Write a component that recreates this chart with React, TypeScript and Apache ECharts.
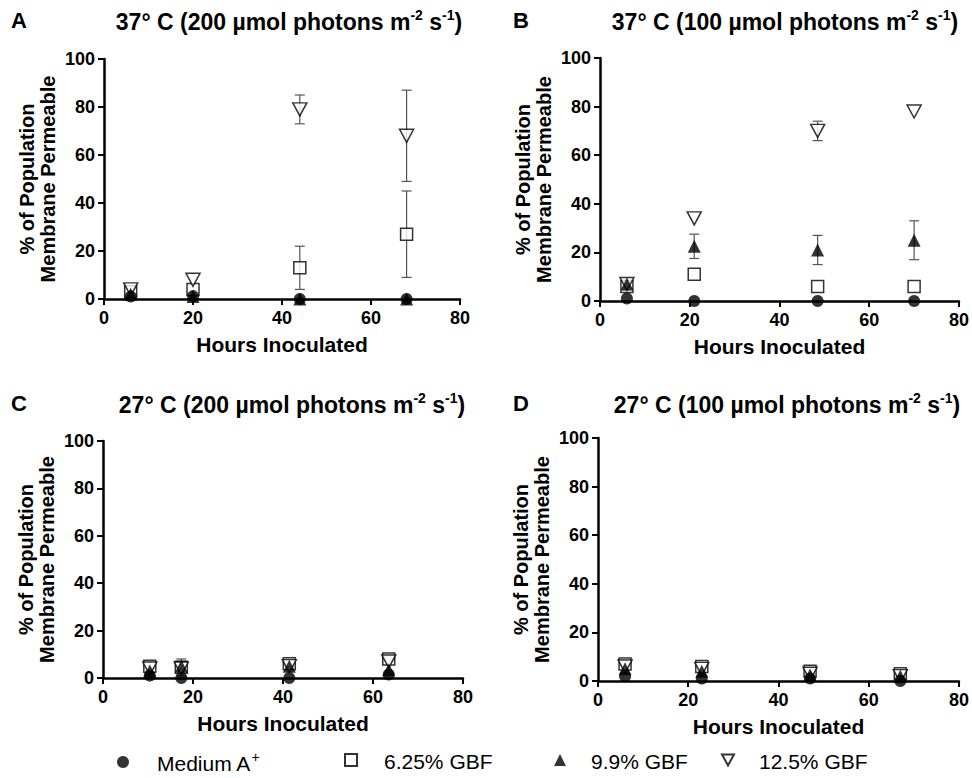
import React, { useEffect, useRef } from "react";
import * as echarts from "echarts";

// ---- data ----
const panelTitles = [
  ["37° C (200 µmol photons m", "-2", " s", "-1", ")"],
  ["37° C (100 µmol photons m", "-2", " s", "-1", ")"],
  ["27° C (200 µmol photons m", "-2", " s", "-1", ")"],
  ["27° C (100 µmol photons m", "-2", " s", "-1", ")"],
];
const panelLetters = ["A", "B", "C", "D"];
const seriesNames = ["Medium A+", "6.25% GBF", "9.9% GBF", "12.5% GBF"];
const xTicks = [0, 20, 40, 60, 80];
const yTicks = [0, 20, 40, 60, 80, 100];

const hours = [
  [6, 20, 44, 68],
  [6, 21, 48.5, 70],
  [10.4, 17.4, 41.4, 63.5],
  [6, 23, 47, 67],
];
const mediumA = [
  [1, 1.2, 0, 0],
  [1, 0, 0, 0],
  [1, 0, 0, 1.5],
  [2, 1, 1, 0],
];
const gbf625 = [
  [3, 4, 13, 27],
  [6, 11, 6, 6],
  [5, 4.5, 6, 8],
  [7, 6, 4, 3],
];
const gbf99 = [
  [2, 1, 0, 0],
  [7, 22.5, 21, 25],
  [3, 5, 5, 3.5],
  [5, 4, 2.5, 2],
];
const gbf125 = [
  [4, 8, 79, 68],
  [7, 34, 70, 78],
  [4, 4, 5, 7],
  [6, 5, 3, 2],
];
const sdMedium = [
  [0, 0, 0, 0],
  [0, 0, 0, 0],
  [0, 0, 0, 0],
  [0, 0, 0, 0],
];
const sd625 = [
  [1.5, 0, 9, 18],
  [1.5, 0, 0, 0],
  [1, 3.5, 1, 0.5],
  [0, 0, 0, 0],
];
const sd99 = [
  [0, 0, 0, 0],
  [1.5, 5, 6, 8],
  [1, 2, 1, 0],
  [0, 0, 0, 0],
];
const sd125 = [
  [1.5, 0, 6, 19],
  [0, 0, 4, 0],
  [0, 0, 0, 0],
  [0, 0, 0, 0],
];

// ---- layout ----
const FONT = '"Liberation Sans", Arial, sans-serif';
const grids = [
  { left: 104, top: 59, width: 356, height: 240 },
  { left: 600, top: 58, width: 361, height: 243 },
  { left: 103, top: 441, width: 360, height: 237 },
  { left: 598, top: 438, width: 362, height: 243 },
];
const titlePos = [
  { x: 284, y: 2 },
  { x: 780, y: 2 },
  { x: 287, y: 385 },
  { x: 782, y: 385 },
];
const letterPos = [
  { x: 6, y: 4 },
  { x: 508, y: 4 },
  { x: 6, y: 387 },
  { x: 508, y: 387 },
];
const legendPos = [
  { left: 112, gap: 23 },
  { left: 339, gap: 22 },
  { left: 549, gap: 20 },
  { left: 716, gap: 20 },
];

const INV_TRI = "path://M0,0L10,0L5,9Z";
const seriesStyles = [
  { symbol: "circle", symbolSize: 12, itemStyle: { color: "#000" }, order: 3 },
  {
    symbol: "rect",
    symbolSize: 12,
    itemStyle: { color: "#fff", borderColor: "#000", borderWidth: 1.5 },
    order: 0,
  },
  { symbol: "triangle", symbolSize: 13, itemStyle: { color: "#000" }, order: 2 },
  {
    symbol: INV_TRI,
    symbolSize: [14, 13],
    itemStyle: { color: "#fff", borderColor: "#000", borderWidth: 1.5 },
    order: 1,
  },
];
const values = [mediumA, gbf625, gbf99, gbf125];
const sds = [sdMedium, sd625, sd99, sd125];

function buildOption() {
  const title: any[] = [];
  const xAxis: any[] = [];
  const yAxis: any[] = [];
  const series: any[] = [];
  const axisCommon = {
    axisLine: { show: true, onZero: false, lineStyle: { color: "#000", width: 2.5 } },
    axisTick: { show: true, inside: false, length: 6, lineStyle: { color: "#000", width: 2 } },
    splitLine: { show: false },
  };
  for (let p = 0; p < 4; p++) {
    const t = panelTitles[p];
    title.push({
      text: `{m|${t[0]}}{s|${t[1]}}{m|${t[2]}}{s|${t[3]}}{m|${t[4]}}`,
      left: titlePos[p].x,
      top: titlePos[p].y,
      textAlign: "center",
      textStyle: {
        rich: {
          m: { fontSize: 23, fontWeight: "bold", fontFamily: FONT, color: "#000", lineHeight: 26, verticalAlign: "bottom" },
          s: { fontSize: 14, fontWeight: "bold", fontFamily: FONT, color: "#000", lineHeight: 26, verticalAlign: "top", padding: [1, 0, 0, 0] },
        },
      },
    });
    title.push({
      text: panelLetters[p],
      left: letterPos[p].x,
      top: letterPos[p].y,
      textStyle: { fontSize: 22, fontWeight: "bold", fontFamily: FONT, color: "#000" },
    });
    xAxis.push({
      gridIndex: p,
      type: "value",
      min: xTicks[0],
      max: xTicks[xTicks.length - 1],
      interval: xTicks[1] - xTicks[0],
      name: "Hours Inoculated",
      nameLocation: "middle",
      nameGap: 35,
      nameTextStyle: { fontSize: 21, fontWeight: "bold", fontFamily: FONT, color: "#000" },
      axisLabel: { fontSize: 18, fontWeight: "bold", fontFamily: FONT, color: "#000", margin: 10 },
      ...axisCommon,
    });
    yAxis.push({
      gridIndex: p,
      type: "value",
      min: yTicks[0],
      max: yTicks[yTicks.length - 1],
      interval: yTicks[1] - yTicks[0],
      name: "% of Population\nMembrane Permeable",
      nameLocation: "middle",
      nameGap: 46,
      nameTextStyle: { fontSize: 20, fontWeight: "bold", fontFamily: FONT, color: "#000", lineHeight: 21 },
      axisLabel: { fontSize: 18, fontWeight: "bold", fontFamily: FONT, color: "#000", margin: 9 },
      ...axisCommon,
    });
    // error bars
    const errData: number[][] = [];
    for (let s = 0; s < 4; s++) {
      for (let i = 0; i < hours[p].length; i++) {
        const sd = sds[s][p][i];
        if (sd > 0) {
          errData.push([hours[p][i], values[s][p][i] - sd, values[s][p][i] + sd]);
        }
      }
    }
    series.push({
      type: "custom",
      xAxisIndex: p,
      yAxisIndex: p,
      z: 1,
      silent: true,
      encode: { x: 0, y: [1, 2] },
      data: errData,
      renderItem: (params: any, api: any) => {
        const x = api.value(0);
        const lo = api.coord([x, api.value(1)]);
        const hi = api.coord([x, api.value(2)]);
        const w = 5;
        const style = { stroke: "#555", lineWidth: 1.2 };
        return {
          type: "group",
          children: [
            { type: "line", shape: { x1: lo[0], y1: lo[1], x2: hi[0], y2: hi[1] }, style },
            { type: "line", shape: { x1: hi[0] - w, y1: hi[1], x2: hi[0] + w, y2: hi[1] }, style },
            { type: "line", shape: { x1: lo[0] - w, y1: lo[1], x2: lo[0] + w, y2: lo[1] }, style },
          ],
        };
      },
    });
    for (let s = 0; s < 4; s++) {
      const st = seriesStyles[s];
      series.push({
        type: "scatter",
        name: seriesNames[s],
        xAxisIndex: p,
        yAxisIndex: p,
        z: 2 + st.order,
        clip: false,
        symbol: st.symbol,
        symbolSize: st.symbolSize,
        itemStyle: st.itemStyle,
        data: hours[p].map((h, i) => [h, values[s][p][i]]),
      });
    }
  }
  const legend = seriesNames.map((n, i) => ({
    data: [n],
    left: legendPos[i].left,
    top: 745,
    itemWidth: 12,
    itemHeight: 12,
    selectedMode: false,
    formatter: (name: string) =>
      name === "Medium A+" ? `{g| }{t|Medium A}{s|+}` : `{g| }{t|${name}}`,
    textStyle: {
      rich: {
        g: { width: legendPos[i].gap, fontSize: 20, lineHeight: 24 },
        t: { fontSize: 21, fontFamily: FONT, color: "#000", lineHeight: 24, verticalAlign: "bottom" },
        s: { fontSize: 14, fontFamily: FONT, color: "#000", lineHeight: 24, verticalAlign: "top" },
      },
    },
  }));
  return {
    animation: false,
    backgroundColor: "#fff",
    title,
    legend,
    grid: grids.map((g) => ({ ...g, containLabel: false })),
    xAxis,
    yAxis,
    series,
  };
}

export default function App() {
  const ref = useRef<HTMLDivElement>(null);
  useEffect(() => {
    document.body.style.margin = "0";
    const chart = echarts.init(ref.current!, undefined, { renderer: "svg" });
    chart.setOption(buildOption() as any);
    return () => chart.dispose();
  }, []);
  return <div ref={ref} style={{ width: 972, height: 778 }} />;
}
